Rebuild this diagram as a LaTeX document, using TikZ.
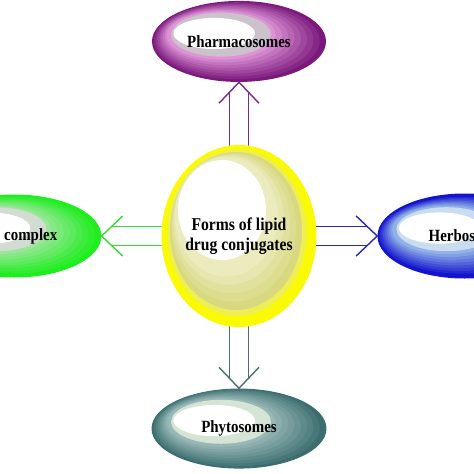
\documentclass[tikz,border=0pt]{standalone}
\usepackage{fontspec}
\setmainfont{Liberation Serif}
\newfontfamily\labelfont{Liberation Serif}[FakeStretch=0.87]
\usepackage{tikz}
\usetikzlibrary{shapes.geometric,positioning,calc,backgrounds}

\definecolor{rimyellow}{HTML}{FAFA05}
\definecolor{paleyellow}{HTML}{EEEE55}
\definecolor{khakiA}{HTML}{D8D880}
\definecolor{purpout}{HTML}{7A187C}
\definecolor{purpin}{HTML}{EAA4E2}
\definecolor{purpring}{HTML}{CBC2CB}
\definecolor{tealout}{HTML}{3D6E6F}
\definecolor{tealin}{HTML}{A4C2C0}
\definecolor{tealring}{HTML}{D6E4D6}
\definecolor{grnout}{HTML}{1EEE1E}
\definecolor{grnin}{HTML}{A8E6A8}
\definecolor{grnring}{HTML}{D2DCD2}
\definecolor{blueout}{HTML}{1414CE}
\definecolor{bluein}{HTML}{A2C8EC}
\definecolor{bluering}{HTML}{CADDF0}
\definecolor{arrpurple}{HTML}{7B2D8B}
\definecolor{arrteal}{HTML}{4E6E72}
\definecolor{arrgreen}{HTML}{3ADB3A}
\definecolor{arrblue}{HTML}{2A2AB0}

%% banded fill of the four outer ellipses: outer, inner, ring colour
\newcommand\bandedfill[3]{%
  \coordinate (bc) at (path picture bounding box.center);
  \fill[#1] ($(bc)+(-3,-2)$) rectangle ($(bc)+(3,2)$);
  \foreach \k in {1,...,8}{%
    \pgfmathsetmacro\bandt{\k/9}
    \pgfmathtruncatemacro\bandpc{\k*100/9}
    \fill[#2!\bandpc!#1] ($(bc)+({-0.5*\bandt},{0.17*\bandt})$)
      ellipse [x radius={2.175*(1-0.42*\bandt)}, y radius={1.0125*(1-0.45*\bandt)}];
  }
  \fill[#3] ($(bc)+(-0.45,0.17)$) ellipse [x radius=1.25, y radius=0.55];
  \fill[white] ($(bc)+(-0.62,0.2)$) ellipse [x radius=1.02, y radius=0.39];}

%% fill of the central ellipse
\newcommand\centrefill{%
  \coordinate (bc) at (path picture bounding box.center);
  \fill[rimyellow] ($(bc)+(-2.5,-2.5)$) rectangle ($(bc)+(2.5,2.5)$);
  \fill[paleyellow] ($(bc)+(-0.05,0.08)$) ellipse [x radius=1.74, y radius=2.08];
  \fill[khakiA] ($(bc)+(-0.075,0.125)$) ellipse [x radius=1.65, y radius=1.975];
  \foreach \k in {1,...,4}{%
    \pgfmathsetmacro\bandt{\k/5}
    \pgfmathtruncatemacro\bandpc{\k*60/5}
    \fill[white!\bandpc!khakiA] ($(bc)+({-0.075-0.3*\bandt},{0.125+0.45*\bandt})$)
      ellipse [x radius={1.65-0.45*\bandt}, y radius={1.975-0.6*\bandt}];
  }
  \fill[white] ($(bc)+(-0.425,0.65)$) ellipse [x radius=1.1, y radius=1.25];}

\tikzset{
  lbl/.style={font=\labelfont\fontsize{12.2}{14}\selectfont\bfseries, text=black, inner sep=0pt},
  blob/.style={ellipse, lbl, minimum width=4.35cm, minimum height=2.025cm},
  twin/.style={draw=#1, line width=1pt},
}

\begin{document}
\begin{tikzpicture}
  \useasboundingbox (0,0) rectangle (11.85,-11.85);

  %% Central node
  \node[ellipse, inner sep=0pt, minimum width=3.875cm, minimum height=4.55cm,
        align=center, font=\labelfont\fontsize{12.8}{14.4}\selectfont\bfseries,
        path picture={\centrefill}]
    (forms) at (5.975,-5.9) {Forms of lipid\\drug conjugates};

  %% Pharmacosomes node
  \node[blob, path picture={\bandedfill{purpout}{purpin}{purpring}},
        above=1.5625cm of forms] (pharma) {Pharmacosomes};

  %% Phytosomes node
  \node[blob, minimum width=4.375cm, minimum height=2cm,
        path picture={\bandedfill{tealout}{tealin}{tealring}},
        below=1.525cm of forms] (phyto) {Phytosomes};

  %% Complex node
  \node[blob, minimum height=2.075cm,
        path picture={\bandedfill{grnout}{grnin}{grnring}},
        left=1.49cm of forms] (complex) {};
  \node[lbl, anchor=west] (complexlbl) at ([xshift=-0.26cm]complex.center) {complex};

  %% Herbosomes node
  \node[blob, minimum height=2.125cm,
        path picture={\bandedfill{blueout}{bluein}{bluering}},
        right=1.51cm of forms] (herbo) {};
  \node[lbl, anchor=west] (herbolbl) at ([xshift=-0.9cm]herbo.center) {Herbos};

  %% Twin-line arrows
  \begin{scope}[on background layer]
    \foreach \tgt/\anc/\dx/\dy/\col in {pharma/south/0/1/arrpurple,
        phyto/north/0/-1/arrteal, complex/east/-1/0/arrgreen,
        herbo/west/1/0/arrblue}{
      \draw[twin=\col] ($(forms.center)+0.2375*(\dy,\dx)$)
        -- ($(\tgt.\anc)-0.25*(\dx,\dy)+0.2375*(\dy,\dx)$);
      \draw[twin=\col] ($(forms.center)-0.2375*(\dy,\dx)$)
        -- ($(\tgt.\anc)-0.25*(\dx,\dy)-0.2375*(\dy,\dx)$);
      \draw[twin=\col] ($(\tgt.\anc)-0.525*(\dx,\dy)+0.5*(\dy,\dx)$)
        -- (\tgt.\anc) -- ($(\tgt.\anc)-0.525*(\dx,\dy)-0.5*(\dy,\dx)$);
    }
  \end{scope}

\end{tikzpicture}
\end{document}
